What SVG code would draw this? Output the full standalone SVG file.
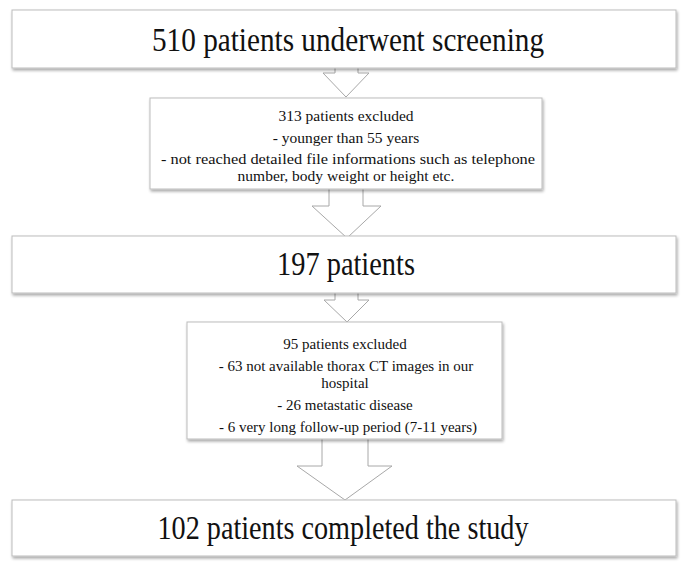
<svg xmlns="http://www.w3.org/2000/svg" width="689" height="572" viewBox="0 0 689 572">
<defs>
<filter id="sh" x="-5%" y="-10%" width="110%" height="130%">
<feGaussianBlur in="SourceAlpha" stdDeviation="1.5"/>
<feOffset dx="1" dy="2" result="b"/>
<feComponentTransfer><feFuncA type="linear" slope="0.35"/></feComponentTransfer>
<feMerge><feMergeNode/><feMergeNode in="SourceGraphic"/></feMerge>
</filter>
<style>
.box{fill:#fff;stroke:#bdbdbd;stroke-width:1;filter:url(#sh)}
.arr{fill:#fff;stroke:#a8a8a8;stroke-width:1}
text{fill:#111;text-anchor:middle}
.big{font-size:33px}
.sm{font-size:15.5px}
.sm4{font-size:15px}
</style>
</defs>
<rect width="689" height="572" fill="#fff"/>
<g id="connectors">
<path class="arr" d="M335,68 V73 H323 L346,97 L369,73 H358 V68"/>
<path class="arr" d="M329,189 V206 H312 L347,238 L381,206 H363 V189"/>
<path class="arr" d="M335,293 V300 H324 L347,322 L369,300 H358 V293"/>
<path class="arr" d="M322,439 V466 H297 L345,500 L392,466 H368 V439"/>
</g>
<g font-family="'Liberation Serif', 'Times New Roman', 'DejaVu Serif', serif">
<g id="n1"><rect class="box" x="12" y="10" width="664" height="58"/><text class="big" x="348" y="51" textLength="392" lengthAdjust="spacingAndGlyphs">510 patients underwent screening</text></g>
<g id="n2"><rect class="box" x="150" y="98" width="392" height="91"/>
<text class="sm" x="346" y="121">313 patients excluded</text>
<text class="sm" x="346" y="143">- younger than 55 years</text>
<text class="sm" x="348" y="164" textLength="374" lengthAdjust="spacingAndGlyphs">- not reached detailed file informations such as telephone</text>
<text class="sm" x="346" y="181">number, body weight or height etc.</text></g>
<g id="n3"><rect class="box" x="12" y="236" width="664" height="57"/><text class="big" x="346" y="275" textLength="138" lengthAdjust="spacingAndGlyphs">197 patients</text></g>
<g id="n4"><rect class="box" x="187" y="322" width="315" height="117"/>
<text class="sm4" x="345" y="349">95 patients excluded</text>
<text class="sm4" x="346" y="371">- 63 not available thorax CT images in our</text>
<text class="sm4" x="345" y="388">hospital</text>
<text class="sm4" x="345" y="410">- 26 metastatic disease</text>
<text class="sm4" x="348" y="432">- 6 very long follow-up period (7-11 years)</text></g>
<g id="n5"><rect class="box" x="12" y="500" width="664" height="56"/><text class="big" x="343" y="539" textLength="371" lengthAdjust="spacingAndGlyphs">102 patients completed the study</text></g>
</g>
</svg>
